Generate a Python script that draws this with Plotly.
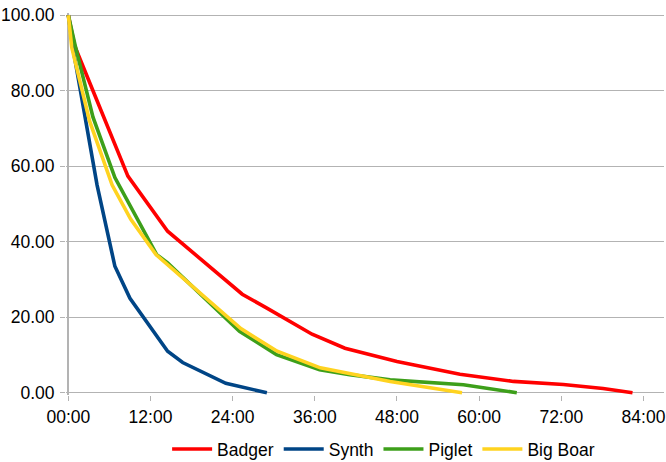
import plotly.graph_objects as go

# Data (time in hours, value)
badger_t = [0, 0.9, 3.6, 8.7, 14.5, 25.4, 29, 35.6, 40.4, 48, 57.2, 65, 72.3, 78.1, 82.4]
badger_v = [100, 92, 80, 57.4, 42.8, 26.1, 22.4, 15.5, 11.8, 8.3, 4.9, 3.0, 2.2, 1.1, 0]

synth_t = [0, 0.7, 4.2, 6.8, 9, 14.5, 16.7, 23, 29]
synth_v = [100, 91, 55, 33.5, 25, 11, 8, 2.5, 0]

piglet_t = [0, 1, 3.6, 6.8, 12.9, 14.5, 25, 30.4, 36.7, 41.1, 47, 57.7, 65.5]
piglet_v = [100, 92, 73, 57, 36.6, 34.4, 16.3, 10.1, 6.1, 4.8, 3.4, 2.1, 0]

boar_t = [0, 0.5, 3.1, 6.4, 9.1, 12.8, 25.2, 30.5, 36.8, 41, 47, 57.5]
boar_v = [100, 91.5, 72, 55, 46, 36.6, 17, 11, 6.6, 5.2, 3.0, 0]

x_tickvals = [0, 12, 24, 36, 48, 60, 72, 84]
x_ticktext = ["00:00", "12:00", "24:00", "36:00", "48:00", "60:00", "72:00", "84:00"]
y_tickvals = [0, 20, 40, 60, 80, 100]

series = [
    ("Badger", badger_t, badger_v, "#ff0000"),
    ("Synth", synth_t, synth_v, "#004586"),
    ("Piglet", piglet_t, piglet_v, "#3d9f1a"),
    ("Big Boar", boar_t, boar_v, "#ffd320"),
]

fig = go.Figure()
for name, t, v, c in series:
    fig.add_trace(go.Scatter(x=t, y=v, name=name, mode="lines",
                             line=dict(color=c, width=3.6)))

FONT = "Liberation Sans, Arial, sans-serif"
fig.update_layout(
    width=666, height=462,
    margin=dict(l=66.4, r=0, t=13, b=67),
    paper_bgcolor="white", plot_bgcolor="white",
    font=dict(family=FONT, size=17, color="black"),
    showlegend=True,
    legend=dict(orientation="h", xref="container", yref="container",
                x=0.576, xanchor="center", y=0.028, yanchor="middle",
                font=dict(size=17.5), itemwidth=40, traceorder="normal"),
    xaxis=dict(range=[-0.34, 87.0], tickvals=x_tickvals, ticktext=x_ticktext,
               showgrid=False, zeroline=True, zerolinecolor="#b3b3b3", zerolinewidth=1.5,
               showline=False, ticks="outside", ticklen=5, tickcolor="#b3b3b3",
               tickfont=dict(size=17.5), ticklabelstandoff=1,
               ticklabeloverflow="allow"),
    yaxis=dict(range=[-0.6, 100.6], tickvals=y_tickvals, tickformat=".2f",
               showgrid=True, gridcolor="#b3b3b3", gridwidth=1,
               zeroline=True, zerolinecolor="#b3b3b3", zerolinewidth=1,
               showline=False, ticks="outside", ticklen=5, tickcolor="#b3b3b3",
               tickfont=dict(size=17.5), ticklabelstandoff=2,
               ticklabeloverflow="allow"),
)

fig.write_html("out.html")
